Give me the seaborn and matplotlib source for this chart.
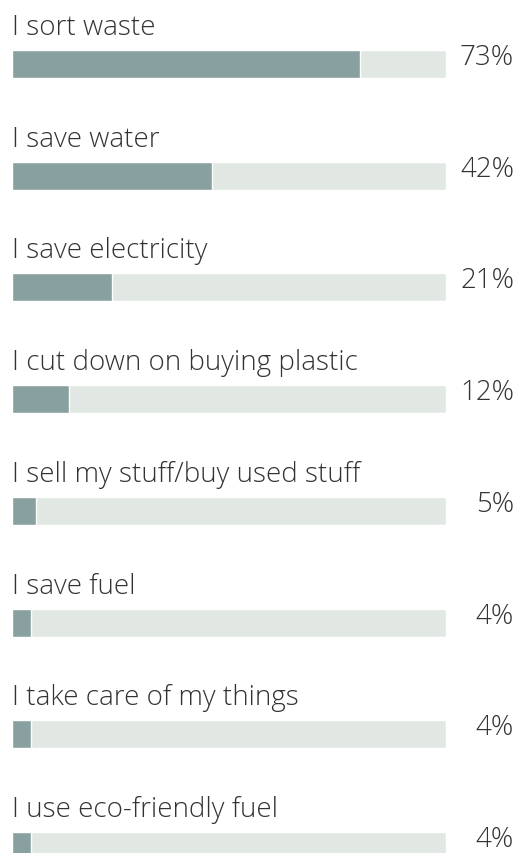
import matplotlib
matplotlib.use("Agg")
import matplotlib.pyplot as plt
import matplotlib.transforms as mtransforms
import seaborn as sns
import pandas as pd

# Survey answers and the share of respondents giving each one
categories = [
    "I sort waste",
    "I save water",
    "I save electricity",
    "I cut down on buying plastic",
    "I sell my stuff/buy used stuff",
    "I save fuel",
    "I take care of my things",
    "I use eco-friendly fuel",
]
shares = [73, 42, 21, 12, 5, 4, 4, 4]
value_labels = ["73%", "42%", "21%", "12%", "5%", "4%", "4%", "4%"]

# Full length of the grey track behind each bar, in percent
track_max = 91

df = pd.DataFrame({"answer": categories, "share": shares,
                   "track": [track_max] * len(categories)})

sns.set_theme(style="white")
plt.rcParams["font.family"] = ["Open Sans", "DejaVu Sans"]

W, H = 520, 854
fig = plt.figure(figsize=(W / 100, H / 100), dpi=100)
fig.patch.set_facecolor("white")

left_px, track_px = 12, 434
ax = fig.add_axes([left_px / W, 0, track_px / W, 1])

bar_color = "#89a0a0"
track_color = "#e1e8e3"
text_color = "#333333"

sns.barplot(data=df, x="track", y="answer", orient="h", color=track_color,
            width=0.25, saturation=1, ax=ax, order=categories)
sns.barplot(data=df, x="share", y="answer", orient="h", color=bar_color,
            width=0.25, saturation=1, ax=ax, order=categories)

row_px = (847 - 65) / 7
ax.set_xlim(0, track_max)
ax.set_ylim(7 + (H - 847) / row_px, -65 / row_px)
ax.axis("off")

label_trans = mtransforms.blended_transform_factory(ax.transAxes, ax.transData)
value_x = (514 - left_px) / track_px

for i, (name, lab) in enumerate(zip(categories, value_labels)):
    ax.text(0, i - 0.125 - 16 / row_px, name, ha="left", va="baseline",
            fontsize=20, color=text_color, fontweight="light")
    ax.text(value_x, i, lab, ha="right", va="baseline",
            fontsize=20, color=text_color, fontweight="light",
            transform=label_trans, clip_on=False)

fig.savefig("out.png", dpi=100, facecolor="white")
